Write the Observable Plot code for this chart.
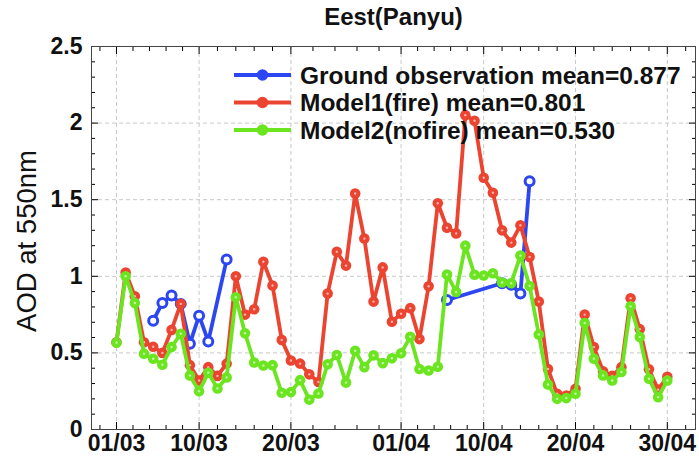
<!DOCTYPE html>
<html>
<head>
<meta charset="utf-8">
<script src="https://cdn.jsdelivr.net/npm/d3@7"></script>
<script src="https://cdn.jsdelivr.net/npm/@observablehq/plot@0.6"></script>
<style>
  body { margin: 0; background: #fff; }
  svg { display: block; }
</style>
</head>
<body>
<div id="chart"></div>
<script>
// ---------- data ----------
const chartTitle = "Eest(Panyu)";
const yLabel = "AOD at 550nm";
const startDate = "2019-03-01"; // model series are daily from this date

const model1Values = [
  0.57, 1.025, 0.87, 0.57, 0.54, 0.50, 0.65, 0.82, 0.42, 0.32,
  0.407, 0.35, 0.43, 1.00, 0.75, 0.785, 1.095, 0.94, 0.585, 0.45,
  0.43, 0.36, 0.31, 0.887, 1.16, 1.07, 1.54, 1.246, 0.835, 1.058,
  0.703, 0.756, 0.792, 0.59, 0.935, 1.477, 1.317, 1.28, 2.052, 2.015,
  1.643, 1.545, 1.30, 1.22, 1.333, 1.126, 0.835, 0.395, 0.233, 0.222,
  0.266, 0.75, 0.538, 0.38, 0.35, 0.407, 0.857, 0.655, 0.393, 0.26,
  0.344
];
const model2Values = [
  0.567, 1.00, 0.826, 0.495, 0.462, 0.423, 0.538, 0.625, 0.353, 0.25,
  0.37, 0.268, 0.34, 0.863, 0.628, 0.437, 0.418, 0.42, 0.24, 0.244,
  0.322, 0.195, 0.235, 0.426, 0.486, 0.306, 0.514, 0.407, 0.484, 0.433,
  0.465, 0.497, 0.605, 0.395, 0.385, 0.41, 1.012, 0.898, 1.2, 1.01,
  1.005, 1.02, 0.96, 0.955, 1.135, 0.937, 0.62, 0.294, 0.2, 0.205,
  0.233, 0.695, 0.462, 0.353, 0.32, 0.375, 0.804, 0.603, 0.331, 0.211,
  0.32
];
// ground observations (null = gap in the record)
const obsDates = [
  "2019-03-05", "2019-03-06", "2019-03-07", "2019-03-08", "2019-03-09",
  "2019-03-10", "2019-03-11", "2019-03-13", "2019-03-25", "2019-04-06",
  "2019-04-12", "2019-04-13", "2019-04-14", "2019-04-15"
];
const obsValues = [
  0.71, 0.826, 0.875, 0.82, 0.56,
  0.743, 0.575, 1.109, null, 0.845,
  0.955, 0.945, 0.887, 1.62
];

const seriesNames = [
  "Ground observation mean=0.877",
  "Model1(fire) mean=0.801",
  "Model2(nofire) mean=0.530"
];
const seriesColors = ["#2c47f2", "#eb4430", "#6ce521"];

const xTickDates = ["2019-03-01", "2019-03-10", "2019-03-20", "2019-04-01", "2019-04-10", "2019-04-20", "2019-04-30"];
const yTickValues = [0, 0.5, 1, 1.5, 2, 2.5];

// ---------- build ----------
const parse = d3.utcParse("%Y-%m-%d");
const DAY = 864e5;
const t0 = parse(startDate);
const model1Rows = model1Values.map((v, i) => ({date: new Date(+t0 + i * DAY), value: v}));
const model2Rows = model2Values.map((v, i) => ({date: new Date(+t0 + i * DAY), value: v}));
const obsRows = obsDates.map((d, i) => ({date: parse(d), value: obsValues[i]}));

const xMajor = xTickDates.map(parse);
const xDomain = [new Date(+t0 - 2.72 * DAY), new Date(+t0 + 63.07 * DAY)];
// minor ticks: each major interval divided in 5
const xMinor = [];
for (let i = 0; i < xMajor.length - 1; i++) {
  const a = +xMajor[i], b = +xMajor[i + 1];
  for (let k = 1; k < 5; k++) xMinor.push(new Date(a + (b - a) * k / 5));
}
{
  const s0 = (+xMajor[1] - +xMajor[0]) / 5;
  for (let t = +xMajor[0] - s0; t > +xDomain[0]; t -= s0) xMinor.push(new Date(t));
  const n = xMajor.length;
  const s1 = (+xMajor[n - 1] - +xMajor[n - 2]) / 5;
  for (let t = +xMajor[n - 1] + s1; t < +xDomain[1]; t += s1) xMinor.push(new Date(t));
}
const yMinor = d3.range(0, 26).map(k => k / 10).filter(v => Math.abs(v * 2 - Math.round(v * 2)) > 1e-6);

const font = "Liberation Sans, Arial, Helvetica, sans-serif";
const gridStyle = {stroke: "#c8c8c8", strokeDasharray: "4,3", strokeWidth: 1};
const lw = 3.8;

const plot = Plot.plot({
  width: 699,
  height: 462,
  marginTop: 46,
  marginRight: 4,
  marginBottom: 33,
  marginLeft: 91,
  style: {fontFamily: font, background: "#fff", overflow: "visible"},
  x: {type: "utc", domain: xDomain},
  y: {domain: [0, 2.5]},
  marks: [
    Plot.ruleX(xMajor, {x: d => d, ...gridStyle}),
    Plot.ruleY(yTickValues, {y: d => d, ...gridStyle}),
    // tick marks (inward), bottom/top/left/right
    Plot.axisX(xMajor, {anchor: "bottom", tickSize: -7, tickFormat: () => "", label: null}),
    Plot.axisX(xMajor, {anchor: "top", tickSize: -7, tickFormat: () => "", label: null}),
    Plot.axisX(xMinor, {anchor: "bottom", tickSize: -4, tickFormat: () => "", label: null}),
    Plot.axisX(xMinor, {anchor: "top", tickSize: -4, tickFormat: () => "", label: null}),
    Plot.axisY(yTickValues, {anchor: "left", tickSize: -7, tickFormat: () => "", label: null}),
    Plot.axisY(yTickValues, {anchor: "right", tickSize: -7, tickFormat: () => "", label: null}),
    Plot.axisY(yMinor, {anchor: "left", tickSize: -4, tickFormat: () => "", label: null}),
    Plot.axisY(yMinor, {anchor: "right", tickSize: -4, tickFormat: () => "", label: null}),
    // tick labels
    Plot.axisX(xMajor, {anchor: "bottom", tickSize: 0, tickPadding: 5, tickFormat: d3.utcFormat("%d/%m"),
      label: null, fontSize: 23, fontWeight: "bold", fill: "#111"}),
    Plot.axisY(yTickValues, {anchor: "left", tickSize: 0, tickPadding: 9, tickFormat: d => String(d),
      label: null, fontSize: 23, fontWeight: "bold", fill: "#111"}),
    Plot.frame({stroke: "#444", strokeWidth: 1}),
    // series
    Plot.line(obsRows, {x: "date", y: "value", stroke: seriesColors[0], strokeWidth: lw}),
    Plot.dot(obsRows, {x: "date", y: "value", r: 4.5, stroke: seriesColors[0], strokeWidth: 3, fill: "#fff"}),
    Plot.line(model1Rows, {x: "date", y: "value", stroke: seriesColors[1], strokeWidth: lw}),
    Plot.dot(model1Rows, {x: "date", y: "value", r: 5.3, fill: seriesColors[1]}),
    Plot.dot(model1Rows, {x: "date", y: "value", r: 1.2, fill: "#fff", fillOpacity: 0.6}),
    Plot.line(model2Rows, {x: "date", y: "value", stroke: seriesColors[2], strokeWidth: lw}),
    Plot.dot(model2Rows, {x: "date", y: "value", r: 5.3, fill: seriesColors[2]}),
    Plot.dot(model2Rows, {x: "date", y: "value", r: 1.2, fill: "#fff", fillOpacity: 0.6}),
    // title & y label
    Plot.text([chartTitle], {frameAnchor: "top", dy: -29, text: d => d, fontSize: 24, fontWeight: "bold",
      fill: "#111", lineAnchor: "middle"}),
    Plot.text([yLabel], {frameAnchor: "left", dx: -64, dy: 3, rotate: -90, text: d => d, fontSize: 27.5,
      fill: "#111", lineAnchor: "middle", textAnchor: "middle"})
  ]
});

// legend (inside the frame, upper right)
const svg = d3.select(plot);
const lg = svg.append("g").attr("font-family", font).attr("text-anchor", "start");
const legendX0 = 91 + 143, legendX1 = 91 + 200, legendTextX = 91 + 209;
const legendY = [75, 102.5, 130];
seriesNames.forEach((name, i) => {
  const y = legendY[i];
  lg.append("line").attr("x1", legendX0).attr("x2", legendX1).attr("y1", y).attr("y2", y)
    .attr("stroke", seriesColors[i]).attr("stroke-width", lw);
  lg.append("circle").attr("cx", (legendX0 + legendX1) / 2).attr("cy", y).attr("r", 5.8).attr("fill", seriesColors[i]);
  lg.append("text").attr("x", legendTextX).attr("y", y).attr("dy", "0.36em").attr("text-anchor", "start")
    .attr("font-size", 24.5).attr("font-weight", "bold").attr("fill", "#111").text(name);
});

document.getElementById("chart").appendChild(plot);
</script>
</body>
</html>
